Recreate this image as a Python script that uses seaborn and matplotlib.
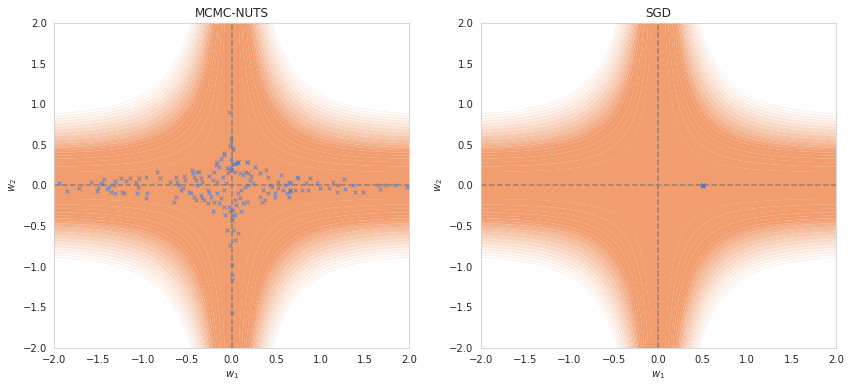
import numpy as np
import matplotlib
matplotlib.use("Agg")
import matplotlib.pyplot as plt
import seaborn as sns

# MCMC-NUTS samples (w1, w2)
nuts_w1 = [-1.94, -1.85, -1.72, -1.58, -1.47, -1.46, -1.44, -1.52, -1.51, -1.40,
           -1.38, -1.36, -1.32, -1.31, -1.25, -1.23, -1.21, -1.19, -1.14, -1.08,
           -1.06, -1.04, -1.07, -0.95, -0.97, -0.96, -0.84, -0.81, -0.69, -0.63,
           -0.61, -0.59, -0.57, -0.55, -0.535, -0.52, -0.48, -0.46, -0.45, -0.44,
           -0.42, -0.40, -0.385, -0.366, -0.35, -0.385, -0.33, -0.35, -0.33, -0.65,
           -0.63, -0.42, -0.40, -0.27, -0.25, -0.234, -0.216, -0.197, -0.178, -0.16,
           -0.14, -0.12, -0.085, -0.10, -0.16, -0.197, -0.16, -0.12, -0.085, -0.066,
           -0.047, -0.028, -0.01, 0.01, -0.017, -0.085, -0.14, -0.21, -0.27, -0.31,
           -0.02, 0.017, 0.054, 0.073, 0.167, -0.002, 0.036, 0.092, 0.13, 0.148,
           0.186, 0.22, 0.26, 0.205, 0.24, 0.186, 0.148, 0.11, 0.073, 0.092,
           0.13, 0.167, 0.036, 0.017, 0.11, 0.036, -0.002, 0.32, 0.39, 0.41,
           0.355, 0.37, 0.43, 0.45, 0.49, 0.52, 0.56, 0.60, 0.64, 0.66,
           0.67, 0.62, 0.64, 0.73, 0.75, 0.71, 0.79, 0.84, 0.86, 0.88,
           0.955, 0.99, 1.09, 1.14, 1.20, 1.26, 1.19, 1.275, 1.37, 1.39,
           1.48, 1.65, 1.67, 1.74, 1.84, 1.97, 0.32, 0.336, 0.41, 0.49,
           0.52, 0.58, 0.0, -0.054, 0.02, 0.07, 0.04, -0.02, 0.0, 0.007,
           0.007, 0.007, -0.028, -0.005, -0.005, 0.02, -0.09, -0.005, 0.17, 0.075,
           0.035, -0.036, 0.0, -0.074, 0.66, 0.66, -1.31, -0.25, 0.05, -0.05]
nuts_w2 = [0.027, -0.068, -0.027, 0.039, 0.035, 0.015, 0.076, -0.068, -0.035, -0.047,
           -0.014, -0.076, 0.006, 0.06, 0.088, -0.076, -0.096, 0.06, 0.088, 0.047,
           -0.014, 0.088, -0.096, -0.096, 0.10, -0.158, 0.16, 0.088, 0.047, 0.11,
           0.047, 0.006, -0.055, -0.035, 0.12, 0.07, -0.076, -0.096, 0.19, 0.15,
           0.11, 0.07, 0.16, 0.17, 0.088, 0.006, 0.047, -0.117, -0.158, -0.20,
           -0.137, -0.137, -0.178, -0.055, -0.096, -0.137, 0.07, 0.17, 0.25, 0.29,
           0.23, 0.33, 0.375, 0.11, 0.047, -0.20, -0.096, -0.158, -0.055, 0.027,
           0.15, 0.19, 0.23, 0.46, -0.32, -0.26, -0.22, -0.32, -0.22, -0.178,
           0.48, 0.27, 0.28, 0.29, 0.29, 0.19, 0.17, 0.15, 0.13, 0.17,
           0.15, 0.117, 0.23, 0.068, 0.027, 0.006, -0.014, -0.055, -0.096, -0.158,
           -0.22, -0.20, -0.178, -0.30, -0.31, -0.36, -0.42, 0.15, 0.19, 0.11,
           -0.055, -0.178, 0.006, -0.014, -0.096, -0.035, 0.13, 0.006, 0.047, -0.055,
           0.027, -0.096, -0.137, 0.11, 0.088, -0.055, -0.055, 0.027, -0.055, 0.088,
           0.035, -0.035, -0.035, 0.047, 0.006, 0.076, -0.076, -0.047, 0.006, -0.076,
           -0.076, 0.006, -0.047, 0.006, 0.006, -0.02, -0.137, -0.20, -0.096, -0.137,
           0.047, -0.055, -0.42, -0.55, -0.55, -0.59, -0.67, -0.73, -0.98, -1.10,
           -1.16, -1.57, 0.90, 0.58, 0.54, 0.44, 0.40, 0.33, 0.29, 0.29,
           0.27, -0.26, -0.36, -0.36, -0.06, -0.08, -0.09, 0.12, -0.24, 0.21]

# SGD iterates (all piled up at one spot)
sgd_w1 = [0.50, 0.50, 0.505, 0.495, 0.50, 0.503]
sgd_w2 = [0.00, 0.008, 0.00, -0.008, 0.004, -0.004]

ticks = [-2.0, -1.5, -1.0, -0.5, 0.0, 0.5, 1.0, 1.5, 2.0]

sns.set_style("whitegrid")
pal = sns.color_palette("muted")
orange, blue = pal[1], pal[0]

# loss surface of y = w2 * tanh(w1 * x)
g = np.linspace(-2, 2, 401)
W1, W2 = np.meshgrid(g, g)
L = (W2 * np.tanh(W1)) ** 2

levels = np.arange(0, 0.76, 0.025)
r_mid = np.sqrt((levels[:-1] + levels[1:]) / 2)
t = np.clip((0.86 - r_mid) / (0.86 - 0.39), 0, 1) ** 1.3
fill_colors = [tuple((1 - a) * 1.0 + a * np.array(orange)) for a in t]

fig, axes = plt.subplots(1, 2, figsize=(850 / 72, 389 / 72), dpi=72)
fig.subplots_adjust(left=0.0635, right=0.9835, bottom=0.1054, top=0.941, wspace=0.2)

for ax, (title, xs, ys) in zip(axes, [("MCMC-NUTS", nuts_w1, nuts_w2),
                                      ("SGD", sgd_w1, sgd_w2)]):
    ax.contourf(W1, W2, L, levels=levels, colors=fill_colors, alpha=0.8,
                antialiased=True)
    ax.contour(W1, W2, L, levels=levels[1:-1:2], colors=[orange], alpha=0.18,
               linewidths=0.6)
    ax.axhline(0, color="gray", ls="--", lw=1.5, alpha=0.9)
    ax.axvline(0, color="gray", ls="--", lw=1.5, alpha=0.9)
    sns.scatterplot(x=xs, y=ys, ax=ax, marker="x", s=14, color=blue,
                    alpha=0.7, linewidth=1.0, zorder=5)
    ax.set_xlim(-2, 2)
    ax.set_ylim(-2, 2)
    ax.set_xticks(ticks)
    ax.set_yticks(ticks)
    ax.grid(False)
    ax.set_title(title)
    ax.set_xlabel("$w_1$")
    ax.set_ylabel("$w_2$")

plt.savefig("out.png", dpi=72)
plt.close()
